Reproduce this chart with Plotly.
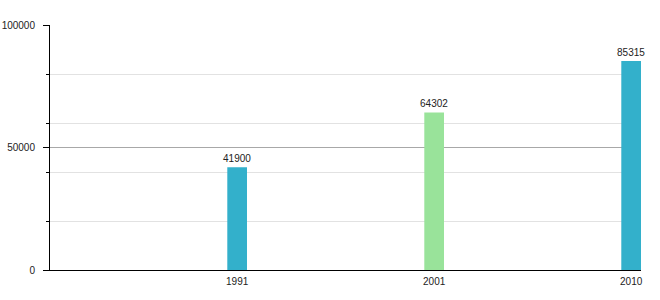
import plotly.graph_objects as go

years = ["1991", "2001", "2010"]
values = [41900, 64302, 85315]
colors = ["#33B0CB", "#99E39A", "#33B0CB"]
ytick_vals = [0, 50000, 100000]
ytick_text = ["0", "50000", "100000"]

positions = list(range(len(years)))

fig = go.Figure()
fig.add_trace(go.Bar(
    x=positions,
    y=values,
    width=0.1,
    marker=dict(color=colors, line=dict(width=0)),
    text=[str(v) for v in values],
    textposition="outside",
    constraintext="none",
    textfont=dict(family="Liberation Sans, Arial, sans-serif", size=10, color="#222"),
    cliponaxis=False,
    hoverinfo="x+y",
))

fig.update_layout(
    width=660,
    height=300,
    margin=dict(l=50, r=19, t=25, b=30, autoexpand=False),
    paper_bgcolor="white",
    plot_bgcolor="white",
    showlegend=False,
    font=dict(family="Liberation Sans, Arial, sans-serif", size=10, color="#222"),
    xaxis=dict(
        range=[-0.95, 2.05],
        tickvals=positions,
        ticktext=years,
        showgrid=False,
        zeroline=False,
        showline=True,
        linecolor="black",
        linewidth=1,
        ticks="",
        ticklabelstandoff=2,
        automargin=False,
    ),
    yaxis=dict(
        range=[0, 100000],
        tickvals=ytick_vals,
        ticktext=ytick_text,
        showgrid=True,
        gridcolor="#A8A8A8",
        gridwidth=1,
        zeroline=False,
        showline=True,
        linecolor="black",
        linewidth=1,
        ticks="outside",
        ticklen=6,
        tickcolor="black",
        ticklabelstandoff=6,
        automargin=False,
        minor=dict(
            tick0=0,
            dtick=20000,
            showgrid=True,
            gridcolor="#E2E2E2",
            gridwidth=1,
            ticks="outside",
            ticklen=3,
            tickcolor="black",
        ),
    ),
)

fig.write_html("out.html")
